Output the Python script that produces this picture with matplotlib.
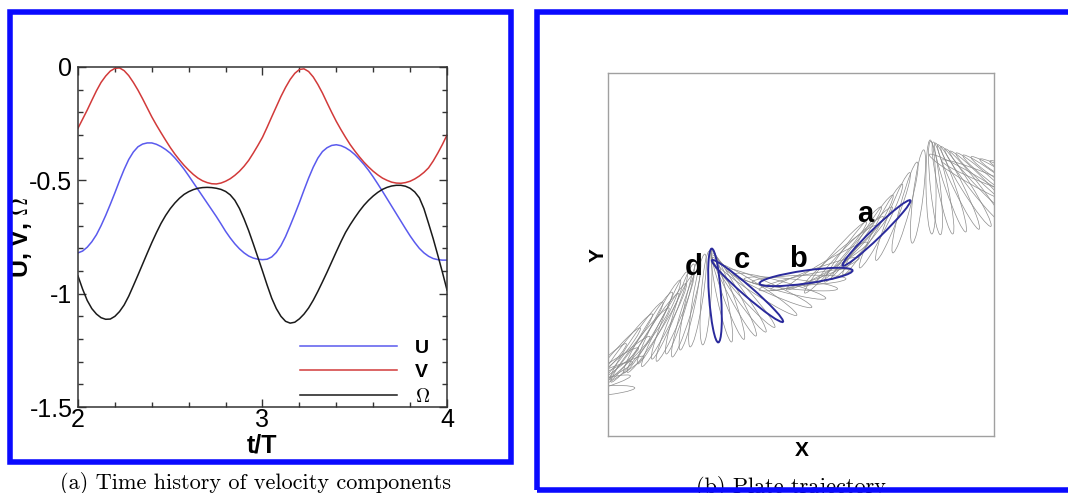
import numpy as np
import matplotlib
matplotlib.use('Agg')
import matplotlib.pyplot as plt
from matplotlib.patches import Ellipse, Rectangle
from matplotlib.ticker import MultipleLocator

plt.rcParams['font.family'] = ['Liberation Sans', 'DejaVu Sans']
plt.rcParams['mathtext.fontset'] = 'cm'
plt.rcParams['axes.unicode_minus'] = False

# ---- panel (a): velocity components over t/T ----
t = [2.000, 2.025, 2.050, 2.075, 2.100, 2.125, 2.150, 2.175, 2.200, 2.225,
     2.250, 2.275, 2.300, 2.325, 2.350, 2.375, 2.400, 2.425, 2.450, 2.475,
     2.500, 2.525, 2.550, 2.575, 2.600, 2.625, 2.650, 2.675, 2.700, 2.725,
     2.750, 2.775, 2.800, 2.825, 2.850, 2.875, 2.900, 2.925, 2.950, 2.975,
     3.000, 3.025, 3.050, 3.075, 3.100, 3.125, 3.150, 3.175, 3.200, 3.225,
     3.250, 3.275, 3.300, 3.325, 3.350, 3.375, 3.400, 3.425, 3.450, 3.475,
     3.500, 3.525, 3.550, 3.575, 3.600, 3.625, 3.650, 3.675, 3.700, 3.725,
     3.750, 3.775, 3.800, 3.825, 3.850, 3.875, 3.900, 3.925, 3.950, 3.975, 4.000]
u = [-0.820, -0.812, -0.795, -0.771, -0.740, -0.700, -0.655, -0.606, -0.555, -0.502,
     -0.452, -0.408, -0.375, -0.352, -0.340, -0.335, -0.335, -0.341, -0.351, -0.364,
     -0.380, -0.401, -0.425, -0.451, -0.480, -0.510, -0.540, -0.570, -0.600, -0.630,
     -0.660, -0.692, -0.725, -0.754, -0.780, -0.802, -0.820, -0.834, -0.843, -0.848,
     -0.850, -0.848, -0.838, -0.818, -0.788, -0.748, -0.700, -0.650, -0.598, -0.543,
     -0.490, -0.442, -0.402, -0.373, -0.356, -0.346, -0.343, -0.347, -0.356, -0.369,
     -0.386, -0.407, -0.430, -0.456, -0.485, -0.516, -0.548, -0.581, -0.614, -0.647,
     -0.680, -0.713, -0.745, -0.774, -0.800, -0.820, -0.835, -0.845, -0.850, -0.852, -0.852]
v = [-0.270, -0.230, -0.190, -0.147, -0.105, -0.068, -0.040, -0.018, -0.006, -0.004,
     -0.016, -0.038, -0.068, -0.102, -0.140, -0.180, -0.220, -0.256, -0.290, -0.323,
     -0.355, -0.384, -0.410, -0.434, -0.455, -0.474, -0.490, -0.502, -0.510, -0.515,
     -0.516, -0.512, -0.504, -0.493, -0.478, -0.460, -0.438, -0.412, -0.380, -0.346,
     -0.310, -0.266, -0.220, -0.175, -0.130, -0.090, -0.055, -0.028, -0.011, -0.008,
     -0.020, -0.044, -0.077, -0.115, -0.158, -0.200, -0.240, -0.276, -0.310, -0.342,
     -0.370, -0.396, -0.420, -0.441, -0.460, -0.476, -0.490, -0.500, -0.508, -0.512,
     -0.513, -0.510, -0.504, -0.494, -0.481, -0.465, -0.445, -0.415, -0.380, -0.342, -0.300]
omega = [-0.922, -0.980, -1.030, -1.066, -1.090, -1.106, -1.113, -1.112, -1.100, -1.079,
         -1.050, -1.011, -0.965, -0.918, -0.870, -0.822, -0.775, -0.731, -0.690, -0.655,
         -0.625, -0.600, -0.579, -0.562, -0.550, -0.541, -0.535, -0.532, -0.531, -0.532,
         -0.535, -0.540, -0.549, -0.564, -0.588, -0.624, -0.670, -0.722, -0.780, -0.840,
         -0.900, -0.962, -1.020, -1.066, -1.100, -1.122, -1.130, -1.126, -1.111, -1.090,
         -1.063, -1.029, -0.990, -0.948, -0.905, -0.860, -0.815, -0.771, -0.730, -0.696,
         -0.665, -0.636, -0.610, -0.588, -0.569, -0.553, -0.540, -0.531, -0.525, -0.522,
         -0.522, -0.526, -0.535, -0.551, -0.577, -0.625, -0.690, -0.757, -0.830, -0.905, -0.984]

# ---- panel (b): plate positions (centre x, centre y, angle in deg) ----
gray_x = [-20, -23, -18, -8, -15, 2, 16, 28.5, 40, 51, 61.5, 72, 82, 89.5, 98,
          113.8, 120, 126, 131, 135.4, 149.4, 160.9, 172.4, 182.8, 191,
          197, 207, 219, 232, 227.5, 245, 260, 273, 285, 297, 310, 323,
          327.5, 335, 342.5, 350.5, 358, 366, 374.5, 383, 392.5, 402.5, 413, 424.5,
          32, 45, 56, 67, 78, 7, -5, 242, 254, 362, 377]
gray_y = [44, 48, 54, 61, 59, 72, 84.5, 95, 103.5, 114, 120.5, 127, 132, 135.5, 138,
          140, 140.8, 141.5, 142.5, 143.6, 146.4, 147.9, 149.8, 152.1, 155.6,
          156, 162, 170, 180, 178.5, 191.5, 201, 210, 219.5, 228.5, 239.5, 249,
          248, 248, 248.5, 249, 249.5, 250, 251, 251.5, 252.5, 253.5, 254, 255,
          91, 103, 111, 118, 124, 68, 56, 186, 193, 258, 258]
gray_ang = [5, 15, 25, 35, 45, 50, 53, 56, 59, 63, 68, 73, 78, 81, 86,
            -78, -70, -62, -55, -48, -33, -24, -15, -6, 2,
            12, 20, 30, 40, 49, 53, 58, 63, 69, 75, 83, 91,
            96, 102, 109, 116, 122, 128, 134, 138, 143, 147, 151, 155,
            52, 57, 62, 67, 73, 42, 30, 45, 50, 150, 158]

plate_names = ['a', 'b', 'c', 'd']
plate_x = [268.5, 198, 139.5, 107]
plate_y = [203, 159, 145, 140.5]
plate_ang = [44, 8, -41, 94]
plate_w = [10, 13, 10, 12]
label_x = [257, 190.3, 133.7, 85.3]
label_y = [214.3, 169.3, 167.7, 161]

PLATE_LEN = 94

fig = plt.figure(figsize=(10.68, 4.93), dpi=100)

# left panel
ax = fig.add_axes([0.07303, 0.17444, 0.34551, 0.68966])
ax.plot(t, u, color='#5a5aee', lw=1.1, label='U')
ax.plot(t, v, color='#d23a3a', lw=1.1, label='V')
ax.plot(t, omega, color='#1a1a1a', lw=1.1, label=r'$\Omega$')
ax.set_xlim(2, 4)
ax.set_ylim(-1.5, 0)
ax.xaxis.set_major_locator(MultipleLocator(1))
ax.xaxis.set_minor_locator(MultipleLocator(0.2))
ax.yaxis.set_major_locator(MultipleLocator(0.5))
ax.yaxis.set_minor_locator(MultipleLocator(0.1))
ax.set_yticks([0, -0.5, -1, -1.5])
ax.set_yticklabels(['0', '-0.5', '-1', '-1.5'])
ax.tick_params(which='both', direction='in', top=True, right=True, width=1, color='#333')
ax.tick_params(which='major', length=6, labelsize=18)
ax.tick_params(which='minor', length=3.5)
ax.tick_params(axis='x', pad=1)
ax.tick_params(axis='y', pad=4)
for s in ax.spines.values():
    s.set_color('#333')
    s.set_linewidth(1.1)
ax.set_xlabel('t/T', fontsize=18, fontweight='bold', va='baseline')
ax.xaxis.set_label_coords(0.5, -0.133)
ax.set_ylabel(r'U, V, $\Omega$', fontsize=18, fontweight='bold', va='baseline')
ax.yaxis.set_label_coords(-0.1355, 0.5)
ax.legend(loc='upper left', bbox_to_anchor=(0.6016, 0.200), frameon=False,
          prop={'size': 14, 'weight': 'bold'}, handlelength=5.0, handletextpad=0.93,
          labelspacing=0.36, borderpad=0, borderaxespad=0)

# right panel
bx = fig.add_axes([0.56929, 0.11562, 0.36142, 0.73631])
bx.set_xlim(0, 386)
bx.set_ylim(0, 363)
bx.set_xticks([])
bx.set_yticks([])
for s in bx.spines.values():
    s.set_color('#a0a0a0')
    s.set_linewidth(1.0)
for x, y, a in zip(gray_x, gray_y, gray_ang):
    bx.add_patch(Ellipse((x, y), PLATE_LEN, 10, angle=a, fill=False,
                         ec='#8c8c8c', lw=0.5))
for x, y, a, w in zip(plate_x, plate_y, plate_ang, plate_w):
    bx.add_patch(Ellipse((x, y), PLATE_LEN, w, angle=a, fill=False,
                         ec='#2a2a9c', lw=1.4, zorder=3))
for name, x, y in zip(plate_names, label_x, label_y):
    bx.text(x, y, name, fontsize=21, fontweight='bold', ha='center', va='baseline')

fig.text(801.5 / 1068, 1 - 455.7 / 493, 'X', fontsize=15, fontweight='bold',
         ha='center', va='baseline')
fig.text(604 / 1068, 1 - 255.5 / 493, 'Y', fontsize=15, fontweight='bold',
         rotation=90, rotation_mode='anchor', ha='center', va='baseline')

# captions and blue frames
cap_font = ['cmr10', 'DejaVu Serif']
fig.text(256 / 1068, 1 - 489 / 493, '(a) Time history of velocity components',
         fontsize=16, family=cap_font, ha='center', va='baseline')
fig.text(791 / 1068, 1 - 493 / 493, '(b) Plate trajectory',
         fontsize=16, family=cap_font, ha='center', va='baseline')

fig.add_artist(Rectangle((0.00890, 0.06288), 0.46957, 0.91278, transform=fig.transFigure,
                         fill=False, ec='#0a0aff', lw=4, joinstyle='miter', zorder=10))
fig.add_artist(Rectangle((0.50281, 0.006085), 0.5084, 0.97018, transform=fig.transFigure,
                         fill=False, ec='#0a0aff', lw=4, joinstyle='miter', zorder=10))

fig.savefig('out.png', dpi=100)
